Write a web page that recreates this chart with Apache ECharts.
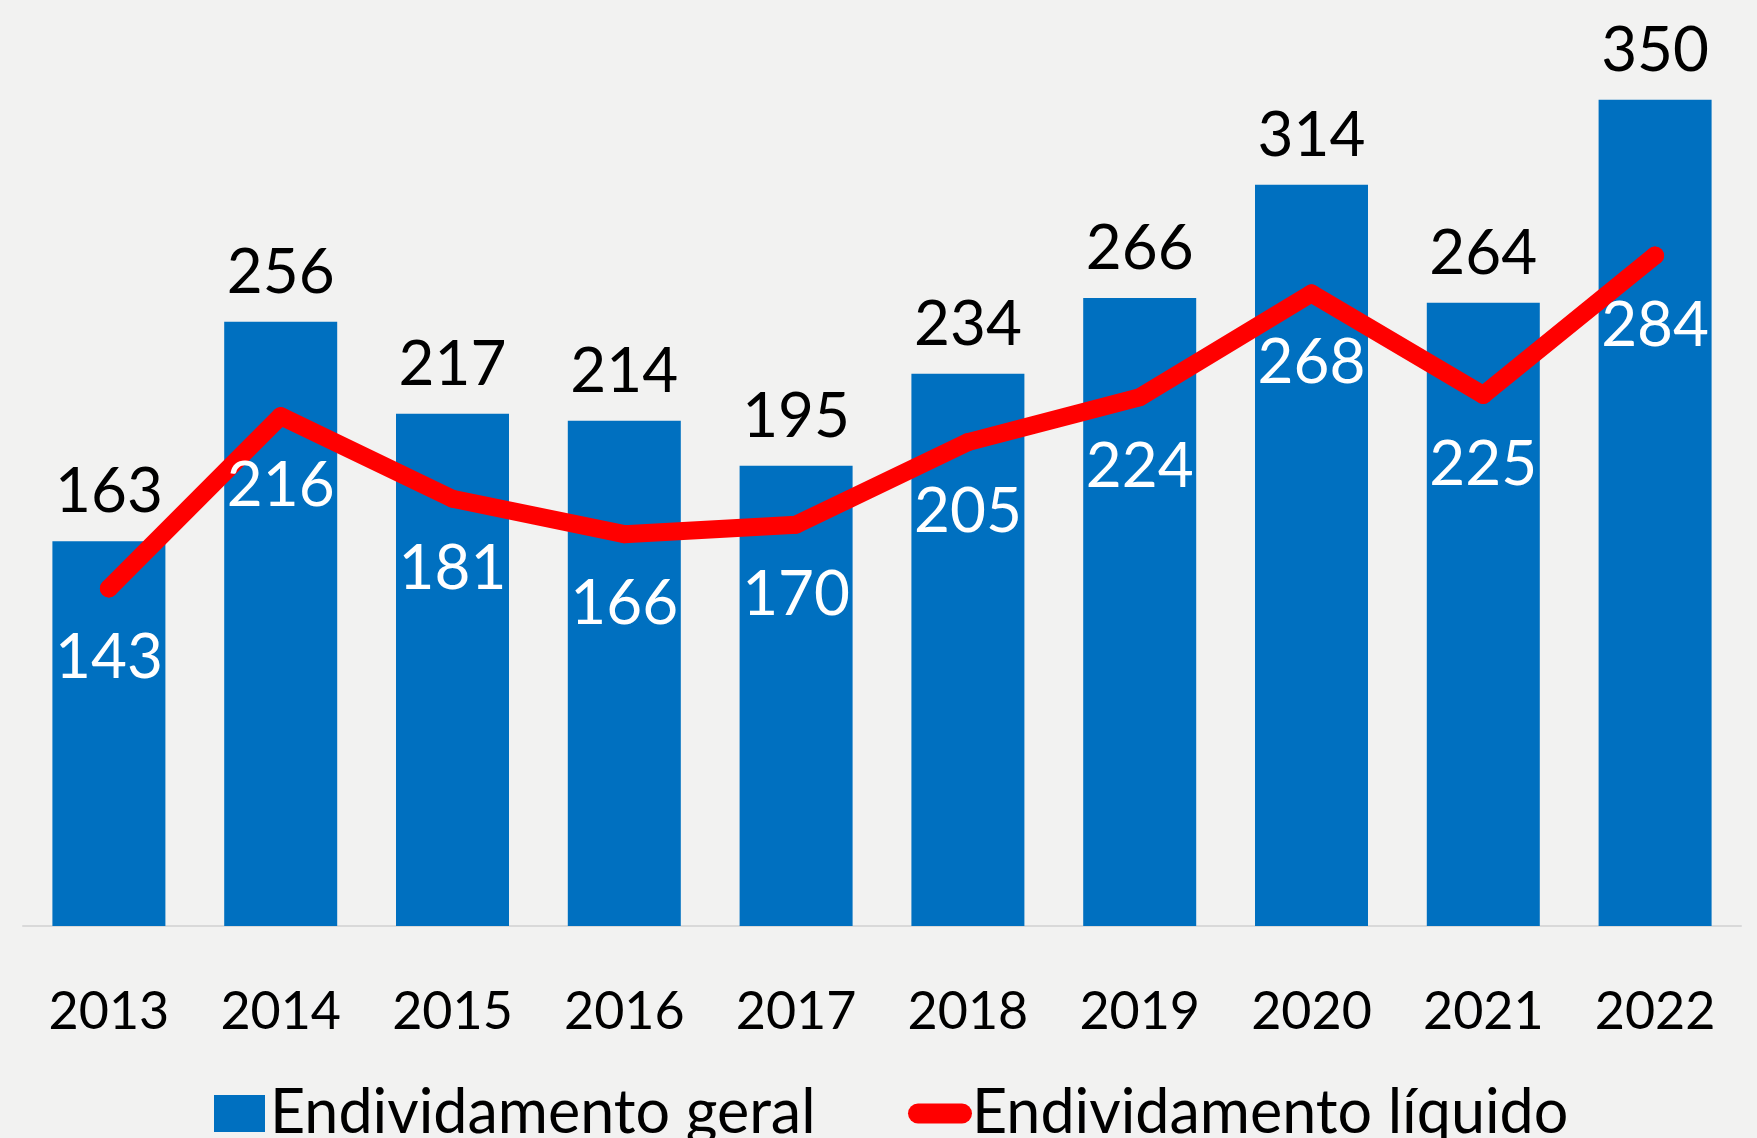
<!DOCTYPE html>
<html>
<head>
<meta charset="utf-8">
<script src="https://cdn.jsdelivr.net/npm/echarts@6/dist/echarts.min.js"></script>
<style>
  html, body { margin: 0; padding: 0; background: #f2f2f1; }
  #main { width: 1757px; height: 1138px; }
</style>
</head>
<body>
<div id="main"></div>
<script>
  var years = ['2013', '2014', '2015', '2016', '2017', '2018', '2019', '2020', '2021', '2022'];
  var geral = [163, 256, 217, 214, 195, 234, 266, 314, 264, 350];
  var liquido = [143, 216, 181, 166, 170, 205, 224, 268, 225, 284];

  var font = 'Lato, "Open Sans", sans-serif';
  var chart = echarts.init(document.getElementById('main'));

  var option = {
    backgroundColor: '#f2f2f1',
    animation: false,
    textStyle: { fontFamily: font },
    grid: { left: 23, right: 16, top: 29, bottom: 212 },
    legend: [{
      data: [{ name: 'Endividamento geral', icon: 'rect' }],
      left: 209, top: 1078,
      itemWidth: 51, itemHeight: 37, itemGap: 0,
      textStyle: { fontSize: 61, color: '#000', fontFamily: font, padding: [0, 0, 0, 0] }
    }, {
      data: [{ name: 'Endividamento líquido', icon: 'path://M10,0 L54,0 A10,10 0 0 1 54,20 L10,20 A10,10 0 0 1 10,0 Z' }],
      left: 903, top: 1078,
      itemWidth: 64, itemHeight: 37, itemGap: 0,
      textStyle: { fontSize: 61, color: '#000', fontFamily: font, padding: [0, 0, 0, -5] }
    }],
    xAxis: {
      type: 'category',
      data: years,
      axisLine: { lineStyle: { color: '#d9d9d9', width: 2 } },
      axisTick: { show: false },
      axisLabel: { color: '#000', fontSize: 52, margin: 60, fontFamily: font }
    },
    yAxis: {
      type: 'value',
      min: 0, max: 380,
      show: false,
      splitLine: { show: false }
    },
    series: [{
      name: 'Endividamento geral',
      type: 'bar',
      data: geral,
      barWidth: 113,
      itemStyle: { color: '#0070C0' },
      label: {
        show: true, position: 'top', distance: 18,
        color: '#000', fontSize: 62, fontFamily: font
      }
    }, {
      name: 'Endividamento líquido',
      type: 'line',
      data: liquido,
      symbol: 'circle',
      symbolSize: 18,
      itemStyle: { color: '#ff0000' },
      lineStyle: { color: '#ff0000', width: 18, cap: 'round', join: 'round' },
      label: {
        show: true, position: 'bottom', distance: 30,
        color: '#fff', fontSize: 62, fontFamily: font
      },
      z: 3
    }]
  };
  chart.setOption(option);
</script>
</body>
</html>
